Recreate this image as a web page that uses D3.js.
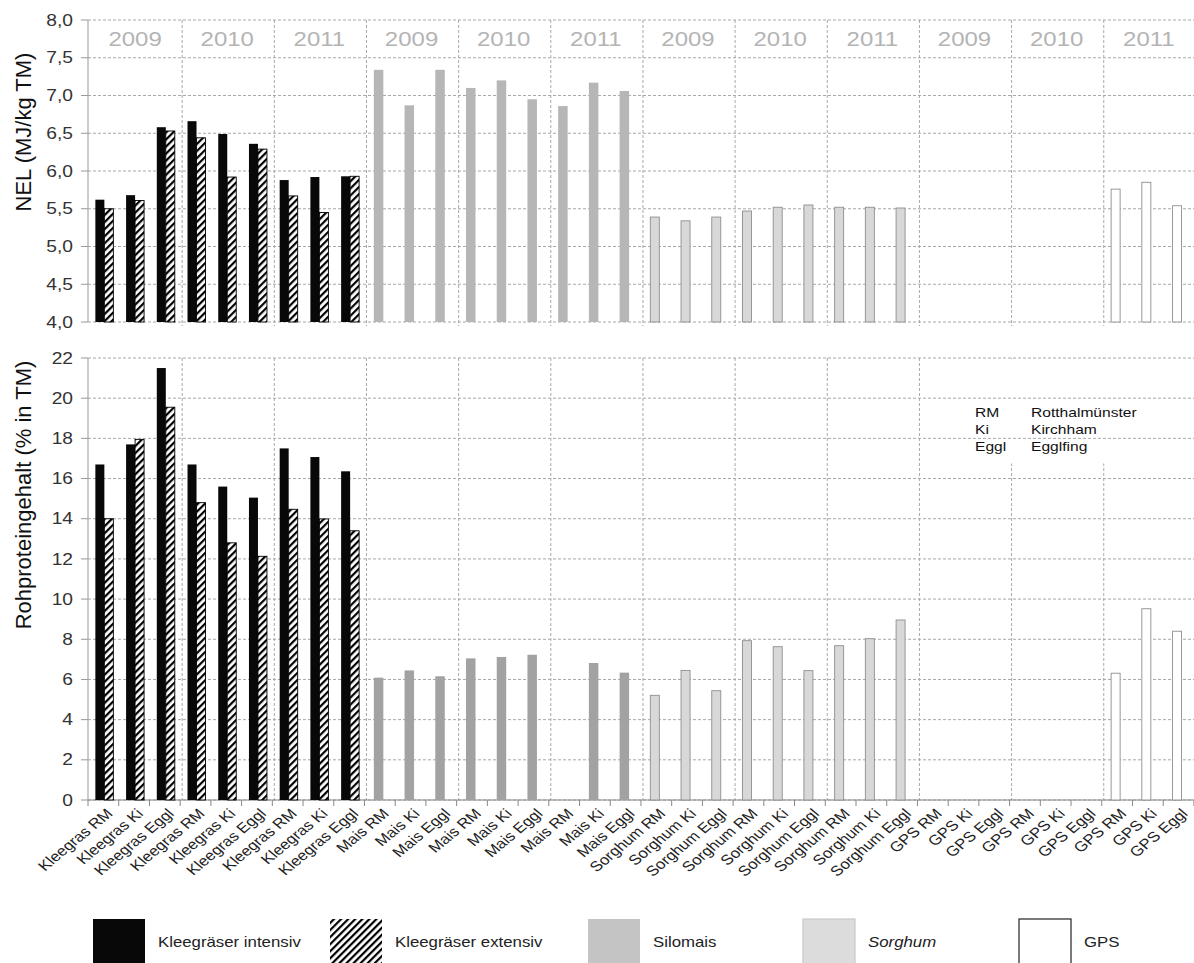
<!DOCTYPE html>
<html>
<head>
<meta charset="utf-8">
<script src="https://cdn.jsdelivr.net/npm/d3@7"></script>
<style>
  body { margin: 0; background: #fff; }
  text { font-family: "Liberation Sans", Arial, sans-serif; }
</style>
</head>
<body>
<script>
// --- data -------------------------------------------------------------
const sites = ["RM", "Ki", "Eggl"];
const crops = ["Kleegras", "Mais", "Sorghum", "GPS"];
const years = ["2009", "2010", "2011"];

// NEL (MJ/kg TM), 9 values per crop: 2009 RM,Ki,Eggl | 2010 ... | 2011 ...
const nelIntensiv = [5.62, 5.68, 6.58, 6.66, 6.49, 6.36, 5.88, 5.92, 5.93];
const nelExtensiv = [5.50, 5.61, 6.53, 6.44, 5.92, 6.29, 5.67, 5.45, 5.93];
const nelMais     = [7.34, 6.87, 7.34, 7.10, 7.20, 6.95, 6.86, 7.17, 7.06];
const nelSorghum  = [5.39, 5.34, 5.39, 5.47, 5.52, 5.55, 5.52, 5.52, 5.51];
const nelGps      = [null, null, null, null, null, null, 5.76, 5.85, 5.54];

// Rohproteingehalt (% in TM)
const rpIntensiv = [16.7, 17.7, 21.5, 16.7, 15.6, 15.05, 17.5, 17.07, 16.36];
const rpExtensiv = [14.0, 17.95, 19.55, 14.8, 12.8, 12.13, 14.47, 13.99, 13.4];
const rpMais     = [6.09, 6.45, 6.16, 7.05, 7.12, 7.23, null, 6.82, 6.34];
const rpSorghum  = [5.21, 6.45, 5.44, 7.93, 7.63, 6.44, 7.68, 8.03, 8.96];
const rpGps      = [null, null, null, null, null, null, 6.31, 9.52, 8.40];

const nelTicks = d3.range(4, 8.01, 0.5);
const rpTicks = d3.range(0, 22.1, 2);

const legendLabels = ["Kleegräser intensiv", "Kleegräser extensiv", "Silomais", "Sorghum", "GPS"];
const noteRows = [["RM", "Rotthalmünster"], ["Ki", "Kirchham"], ["Eggl", "Egglfing"]];

// --- layout -----------------------------------------------------------
const width = 1194, height = 963;
const left = 88, step = 30.72;
const sx = 1.2; // horizontal text stretch as in the original bitmap

const categories = [];
crops.forEach(c => years.forEach(() => sites.forEach(s => categories.push(`${c} ${s}`))));

const svg = d3.select("body").append("svg")
  .attr("width", width)
  .attr("height", height);

const defs = svg.append("defs");
defs.append("pattern")
  .attr("id", "hatch")
  .attr("patternUnits", "userSpaceOnUse")
  .attr("width", 5).attr("height", 5)
  .attr("patternTransform", "rotate(45)")
  .call(p => p.append("rect").attr("width", 5).attr("height", 5).attr("fill", "#fff"))
  .append("line")
  .attr("x1", 1).attr("x2", 1).attr("y1", 0).attr("y2", 5)
  .attr("stroke", "#000").attr("stroke-width", 2.4);

const x = d3.scaleBand()
  .domain(d3.range(categories.length))
  .range([left, left + categories.length * step]);
const bw = x.bandwidth();
const cx = i => x(i) + bw / 2;

const yTop = d3.scaleLinear().domain([4, 8]).range([322, 20]);
const yBot = d3.scaleLinear().domain([0, 22]).range([800, 358]);

const comma = d3.format(".1f");

const drawPanel = (y, ticks, fmt, bottomExtra, mask) => {
  const g = svg.append("g");
  const [y0, y1] = y.range();

  // group separators
  g.selectAll(".vg").data(d3.range(3, categories.length, 3)).join("line")
    .attr("x1", d => x(d) + 2).attr("x2", d => x(d) + 2)
    .attr("y1", y1).attr("y2", y0 + bottomExtra)
    .attr("stroke", "#a8a8a8").attr("stroke-dasharray", "3,2");

  // blank area behind the site note (separators start below it)
  if (mask) {
    g.append("rect")
      .attr("x", x(30) - 10).attr("y", y1 + 1)
      .attr("width", x(34) - x(30)).attr("height", y(mask) - y1)
      .attr("fill", "#fff");
  }

  // horizontal grid
  g.selectAll(".hg").data(ticks).join("line")
    .attr("x1", left).attr("x2", width)
    .attr("y1", d => y(d)).attr("y2", d => y(d))
    .attr("stroke", "#a8a8a8").attr("stroke-dasharray", "3,2");

  // left axis line + ticks
  g.append("line")
    .attr("x1", left).attr("x2", left).attr("y1", y1).attr("y2", y0)
    .attr("stroke", "#999");
  g.selectAll(".tk").data(ticks).join("line")
    .attr("x1", left - 7).attr("x2", left)
    .attr("y1", d => y(d)).attr("y2", d => y(d))
    .attr("stroke", "#999");
  g.selectAll(".tl").data(ticks).join("g")
    .attr("transform", d => `translate(${left - 15},${y(d)}) scale(${sx},1)`)
    .append("text")
    .attr("text-anchor", "end")
    .attr("dy", "0.35em")
    .attr("font-size", 16)
    .attr("fill", "#333")
    .text(fmt);
  return g;
};

const fmtTop = d => comma(d).replace(".", ",");
const gTop = drawPanel(yTop, nelTicks, fmtTop, 4, null);
const gBot = drawPanel(yBot, rpTicks, d => d, 0, 16.8);

// year labels in the top band
gTop.selectAll(".yr").data(d3.range(12)).join("g")
  .attr("transform", d => `translate(${x(d * 3) + 1.5 * bw + 1},${(yTop(8) + yTop(7.5)) / 2}) scale(${sx},1)`)
  .append("text")
  .attr("text-anchor", "middle")
  .attr("dy", "0.36em")
  .attr("font-size", 20)
  .attr("fill", "#b4b4b4")
  .text(d => years[d % 3]);

// bottom x axis
gBot.append("line")
  .attr("x1", left).attr("x2", width).attr("y1", 800).attr("y2", 800)
  .attr("stroke", "#888");
gBot.selectAll(".xt").data(d3.range(categories.length + 1)).join("line")
  .attr("x1", d => left + d * step).attr("x2", d => left + d * step)
  .attr("y1", 800).attr("y2", 806)
  .attr("stroke", "#888");
gBot.selectAll(".xl").data(categories).join("g")
  .attr("transform", (d, i) => `translate(${cx(i) + 6},${811}) scale(${sx},1) rotate(-45)`)
  .append("text")
  .attr("text-anchor", "end")
  .attr("dy", "0.35em")
  .attr("font-size", 14)
  .attr("fill", "#222")
  .text(d => d);

// --- bars -------------------------------------------------------------
const styles = {
  intensiv: { fill: "#080808", stroke: "none", dx: -8, w: 9 },
  extensiv: { fill: "url(#hatch)", stroke: "#000", dx: 1, w: 9 },
  maisTop: { fill: "#b6b6b6", stroke: "none", dx: -6, w: 9.5 },
  maisBot: { fill: "#a2a2a2", stroke: "none", dx: -6, w: 9.5 },
  sorghum: { fill: "#d8d8d8", stroke: "#8e8e8e", dx: -6, w: 9 },
  gps: { fill: "#fff", stroke: "#8e8e8e", dx: -6, w: 9 }
};

const drawBars = (g, y, values, offset, st) => {
  const base = y.domain()[0];
  const rows = values.map((v, i) => ({ v, i: offset + i })).filter(d => d.v != null);
  g.append("g").selectAll("rect").data(rows).join("rect")
    .attr("x", d => cx(d.i) + st.dx)
    .attr("width", st.w)
    .attr("y", d => y(d.v))
    .attr("height", d => y(base) - y(d.v))
    .attr("fill", st.fill)
    .attr("stroke", st.stroke)
    .attr("stroke-width", 0.9);
};

drawBars(gTop, yTop, nelIntensiv, 0, styles.intensiv);
drawBars(gTop, yTop, nelExtensiv, 0, styles.extensiv);
drawBars(gTop, yTop, nelMais, 9, styles.maisTop);
drawBars(gTop, yTop, nelSorghum, 18, styles.sorghum);
drawBars(gTop, yTop, nelGps, 27, styles.gps);

drawBars(gBot, yBot, rpIntensiv, 0, styles.intensiv);
drawBars(gBot, yBot, rpExtensiv, 0, styles.extensiv);
drawBars(gBot, yBot, rpMais, 9, styles.maisBot);
drawBars(gBot, yBot, rpSorghum, 18, styles.sorghum);
drawBars(gBot, yBot, rpGps, 27, styles.gps);

// --- axis titles ------------------------------------------------------
svg.append("text")
  .attr("transform", `translate(31,${(yTop(8) + yTop(4)) / 2 - 39}) rotate(-90)`)
  .attr("text-anchor", "middle")
  .attr("font-size", 22)
  .attr("fill", "#111")
  .text("NEL (MJ/kg TM)");

svg.append("text")
  .attr("transform", `translate(31,${(yBot(22) + yBot(0)) / 2 - 84}) rotate(-90)`)
  .attr("text-anchor", "middle")
  .attr("font-size", 22)
  .attr("fill", "#111")
  .text("Rohproteingehalt (% in TM)");

// --- site note --------------------------------------------------------
const note = svg.append("g");
noteRows.forEach((r, k) => {
  [975, 1031].forEach((nx, j) => {
    note.append("g")
      .attr("transform", `translate(${nx},${412 + k * 17}) scale(${sx},1)`)
      .append("text")
      .attr("dy", "0.35em")
      .attr("font-size", 13)
      .attr("fill", "#111")
      .text(r[j]);
  });
});

// --- legend -----------------------------------------------------------
const legendX = [93, 330, 588, 803, 1019];
const legendStyles = [
  { fill: "#080808", stroke: "none", italic: false },
  { fill: "url(#hatch)", stroke: "none", italic: false },
  { fill: "#c4c4c4", stroke: "none", italic: false },
  { fill: "#dcdcdc", stroke: "#c8c8c8", italic: true },
  { fill: "#fff", stroke: "#222", italic: false }
];

const legend = svg.append("g");
legendLabels.forEach((lab, i) => {
  const st = legendStyles[i];
  legend.append("rect")
    .attr("x", legendX[i]).attr("y", 919)
    .attr("width", 52).attr("height", 50)
    .attr("fill", st.fill)
    .attr("stroke", st.stroke)
    .attr("stroke-width", 1.2);
  legend.append("g")
    .attr("transform", `translate(${legendX[i] + 65},942) scale(${sx},1)`)
    .append("text")
    .attr("dy", "0.35em")
    .attr("font-size", 14)
    .attr("font-style", st.italic ? "italic" : "normal")
    .attr("fill", "#222")
    .text(lab);
});
</script>
</body>
</html>
